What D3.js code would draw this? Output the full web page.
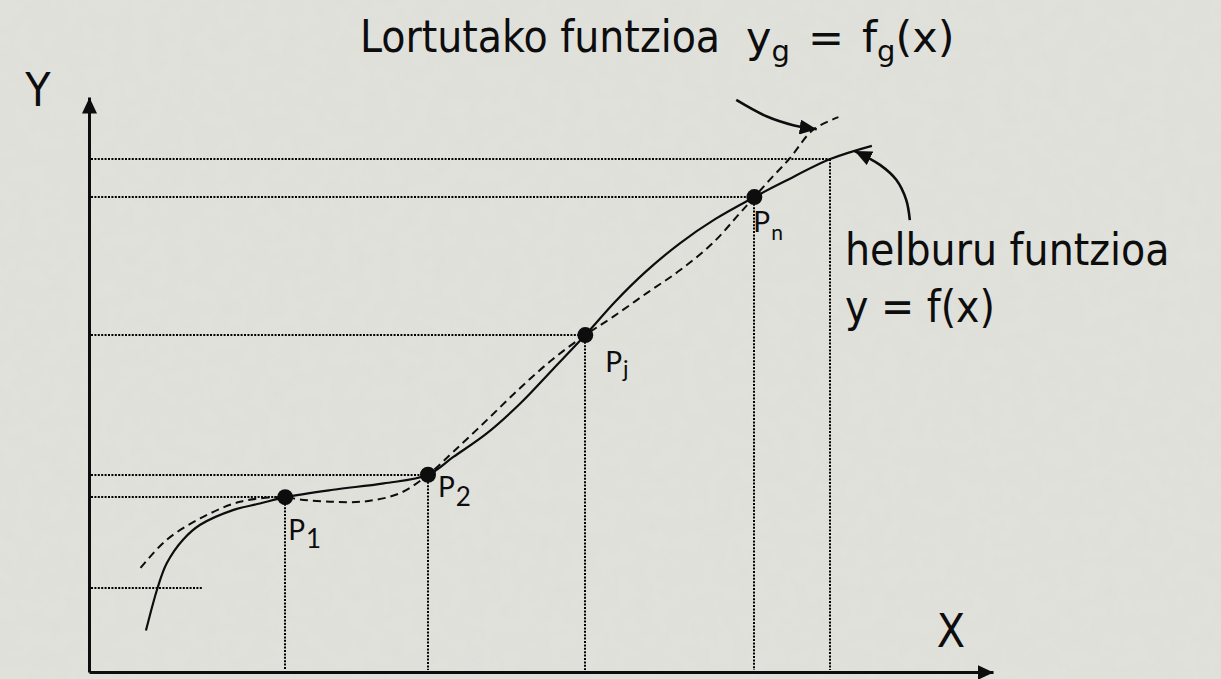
<!DOCTYPE html>
<html>
<head>
<meta charset="utf-8">
<script src="https://cdn.jsdelivr.net/npm/d3@7"></script>
<style>
  html, body { margin: 0; padding: 0; background: #e2e2dd; overflow: hidden; }
  svg { display: block; }
</style>
</head>
<body>
<svg id="chart"></svg>
<script>
// Sample points P1, P2, Pj, Pn (shared by both functions)
const pointNames = ['1', '2', 'j', 'n'];
const pointX = [21.7, 37.5, 54.9, 73.6];
const pointY = [30.4, 34.3, 58.6, 82.6];

// helburu funtzioa  y = f(x)  (solid)
const targetX = [6.3, 7.6, 8.6, 10.4, 12.3, 16.0, 18.9, 21.7, 27.0, 32.6, 37.5, 40.3, 44.0, 47.7, 51.4, 54.9, 58.2, 61.5, 65.4, 69.3, 73.6, 76.8, 82.0, 86.6];
const targetY = [7.2, 14.7, 18.9, 23.0, 25.6, 28.2, 29.3, 30.4, 31.7, 32.8, 34.3, 37.4, 41.5, 46.7, 52.8, 58.6, 64.4, 69.5, 74.6, 78.8, 82.6, 85.2, 89.2, 91.5];

// Lortutako funtzioa  y_g = f_g(x)  (dashed)
const fittedX = [5.7, 8.6, 12.3, 16.7, 21.7, 23.3, 27.0, 30.7, 34.4, 37.5, 40.3, 44.0, 47.7, 51.3, 54.9, 58.0, 61.7, 65.4, 69.0, 72.0, 73.6, 75.3, 77.5, 80.1, 82.9];
const fittedY = [18.1, 23.0, 26.7, 29.6, 30.4, 30.0, 29.6, 29.7, 31.1, 34.3, 38.3, 43.8, 49.4, 54.4, 58.6, 61.8, 65.9, 69.9, 74.6, 79.8, 82.6, 85.6, 89.3, 94.3, 96.5];

// extra reading of f(x) beyond Pn, and a short guide near the origin
const extraX = 82.0;
const extraY = 89.2;
const shortGuideY = 14.6;
const shortGuideEnd = 12.5;

// annotation arrows (pointing to the dashed and to the solid curve)
const noteFittedX = [71.6, 75.0, 77.9, 80.5];
const noteFittedY = [99.5, 96.6, 95.1, 94.4];
const noteTargetX = [90.8, 90.4, 89.3, 87.5, 84.7];
const noteTargetY = [78.6, 82.1, 85.6, 88.2, 90.6];

const width = 1221, height = 679;
const ink = '#0d0d0d';
const mainFont = '"DejaVu Sans Condensed", "DejaVu Sans", sans-serif';
const formulaFont = '"DejaVu Sans", sans-serif';
const pointFont = 'Lato, "Open Sans", sans-serif';

const svg = d3.select('#chart')
    .attr('width', width)
    .attr('height', height);

// Paper-like background
const defs = svg.append('defs');
const paper = defs.append('filter').attr('id', 'paper')
    .attr('x', 0).attr('y', 0).attr('width', '100%').attr('height', '100%');
paper.append('feTurbulence')
    .attr('type', 'fractalNoise')
    .attr('baseFrequency', 0.06)
    .attr('numOctaves', 3)
    .attr('seed', 4);
paper.append('feColorMatrix')
    .attr('type', 'matrix')
    .attr('values', '0 0 0 0 0.5  0 0 0 0 0.5  0 0 0 0 0.48  0 0 0 0.09 0');

svg.append('rect')
    .attr('width', width).attr('height', height)
    .attr('fill', '#e2e2dd');
svg.append('rect')
    .attr('width', width).attr('height', height)
    .attr('filter', 'url(#paper)');

// Arrow heads
function addHead(id, len, wid) {
    defs.append('marker')
        .attr('id', id)
        .attr('viewBox', `0 0 ${len} ${wid}`)
        .attr('refX', len)
        .attr('refY', wid / 2)
        .attr('markerWidth', len)
        .attr('markerHeight', wid)
        .attr('markerUnits', 'userSpaceOnUse')
        .attr('orient', 'auto')
        .append('path')
        .attr('d', `M0,0L${len},${wid / 2}L0,${wid}Z`)
        .attr('fill', ink);
}
addHead('axis-head', 16, 15);
addHead('note-head', 17, 15);

// Scales
const xScale = d3.scaleLinear().domain([0, 100]).range([89, 993]);
const yScale = d3.scaleLinear().domain([0, 100]).range([672, 97]);
const px = v => Math.round(xScale(v));
const py = v => Math.round(yScale(v));

const points = pointX.map((v, i) => ({name: pointNames[i], x: v, y: pointY[i]}));

// Dotted guide lines
const guides = svg.append('g')
    .attr('stroke', '#000')
    .attr('stroke-width', 2)
    .attr('stroke-dasharray', '2,1.4')
    .attr('fill', 'none');

const readings = points.concat([{x: extraX, y: extraY}]);
guides.selectAll('.h-guide')
    .data(readings)
    .enter()
    .append('line')
    .attr('class', 'h-guide')
    .attr('x1', px(0) + 2)
    .attr('x2', d => px(d.x))
    .attr('y1', d => py(d.y))
    .attr('y2', d => py(d.y));

guides.selectAll('.v-guide')
    .data(readings)
    .enter()
    .append('line')
    .attr('class', 'v-guide')
    .attr('x1', d => px(d.x))
    .attr('x2', d => px(d.x))
    .attr('y1', d => py(d.y))
    .attr('y2', py(0) - 2);

guides.append('line')
    .attr('x1', px(0) + 2)
    .attr('x2', px(shortGuideEnd))
    .attr('y1', py(shortGuideY))
    .attr('y2', py(shortGuideY));

// Axes
svg.append('g')
    .attr('transform', `translate(0,${yScale(0)})`)
    .call(d3.axisBottom(xScale).tickValues([]).tickSizeOuter(0))
    .call(g => g.select('.domain')
        .attr('stroke', ink)
        .attr('stroke-width', 3)
        .attr('marker-end', 'url(#axis-head)'));

svg.append('g')
    .attr('transform', `translate(${xScale(0)},0)`)
    .call(d3.axisLeft(yScale).tickValues([]).tickSizeOuter(0))
    .call(g => g.select('.domain')
        .attr('stroke', ink)
        .attr('stroke-width', 3)
        .attr('marker-end', 'url(#axis-head)'));

// Curves
const line = d3.line()
    .x(d => xScale(d[0]))
    .y(d => yScale(d[1]))
    .curve(d3.curveCatmullRom.alpha(0.5));

svg.append('path')
    .datum(targetX.map((v, i) => [v, targetY[i]]))
    .attr('d', line)
    .attr('fill', 'none')
    .attr('stroke', ink)
    .attr('stroke-width', 2.2);

svg.append('path')
    .datum(fittedX.map((v, i) => [v, fittedY[i]]))
    .attr('d', line)
    .attr('fill', 'none')
    .attr('stroke', ink)
    .attr('stroke-width', 2)
    .attr('stroke-dasharray', '8,5');

// Annotation arrows
[[noteFittedX, noteFittedY], [noteTargetX, noteTargetY]].forEach(([xs, ys]) => {
    svg.append('path')
        .datum(xs.map((v, i) => [v, ys[i]]))
        .attr('d', line)
        .attr('fill', 'none')
        .attr('stroke', ink)
        .attr('stroke-width', 2.6)
        .attr('marker-end', 'url(#note-head)');
});

// Points
svg.selectAll('.pt')
    .data(points)
    .enter()
    .append('circle')
    .attr('class', 'pt')
    .attr('cx', d => xScale(d.x))
    .attr('cy', d => yScale(d.y))
    .attr('r', 8)
    .attr('fill', ink);

// Point labels: [dx, dy, subscript shift, subscript size]
const labelOffset = {
    '1': [3, 43, 8, 26],
    '2': [10, 22, 9, 26],
    'j': [20, 37, 5, 23],
    'n': [-1, 35, 8, 21]
};
const pl = svg.selectAll('.plabel')
    .data(points)
    .enter()
    .append('text')
    .attr('class', 'plabel')
    .attr('x', d => xScale(d.x) + labelOffset[d.name][0])
    .attr('y', d => yScale(d.y) + labelOffset[d.name][1])
    .style('font-family', pointFont)
    .style('font-size', '28px')
    .attr('fill', ink);
pl.append('tspan').text('P');
pl.append('tspan')
    .attr('dx', 1)
    .attr('dy', d => labelOffset[d.name][2])
    .style('font-size', d => labelOffset[d.name][3] + 'px')
    .text(d => d.name);

// Texts
svg.append('text')
    .attr('x', 360)
    .attr('y', 52)
    .style('font-family', mainFont)
    .style('font-size', '44px')
    .attr('fill', ink)
    .text('Lortutako funtzioa');

const formula = svg.append('text')
    .attr('x', 746)
    .attr('y', 52)
    .style('font-family', formulaFont)
    .style('font-size', '43px')
    .attr('fill', ink);
formula.append('tspan').text('y');
formula.append('tspan').attr('dy', 9).style('font-size', '29px').text('g');
formula.append('tspan').attr('dy', -9).attr('dx', 18).text('=');
formula.append('tspan').attr('dx', 18).text('f');
formula.append('tspan').attr('dy', 9).style('font-size', '29px').text('g');
formula.append('tspan').attr('dy', -9).text('(x)');

svg.append('text')
    .attr('x', 845)
    .attr('y', 265)
    .style('font-family', mainFont)
    .style('font-size', '44px')
    .attr('fill', ink)
    .text('helburu funtzioa');

svg.append('text')
    .attr('x', 845)
    .attr('y', 322)
    .style('font-family', mainFont)
    .style('font-size', '44px')
    .attr('fill', ink)
    .text('y = f(x)');

svg.append('text')
    .attr('x', 38)
    .attr('y', 106)
    .attr('text-anchor', 'middle')
    .style('font-family', mainFont)
    .style('font-size', '46px')
    .attr('fill', ink)
    .text('Y');

svg.append('text')
    .attr('x', 951)
    .attr('y', 647)
    .attr('text-anchor', 'middle')
    .style('font-family', mainFont)
    .style('font-size', '46px')
    .attr('fill', ink)
    .text('X');
</script>
</body>
</html>
